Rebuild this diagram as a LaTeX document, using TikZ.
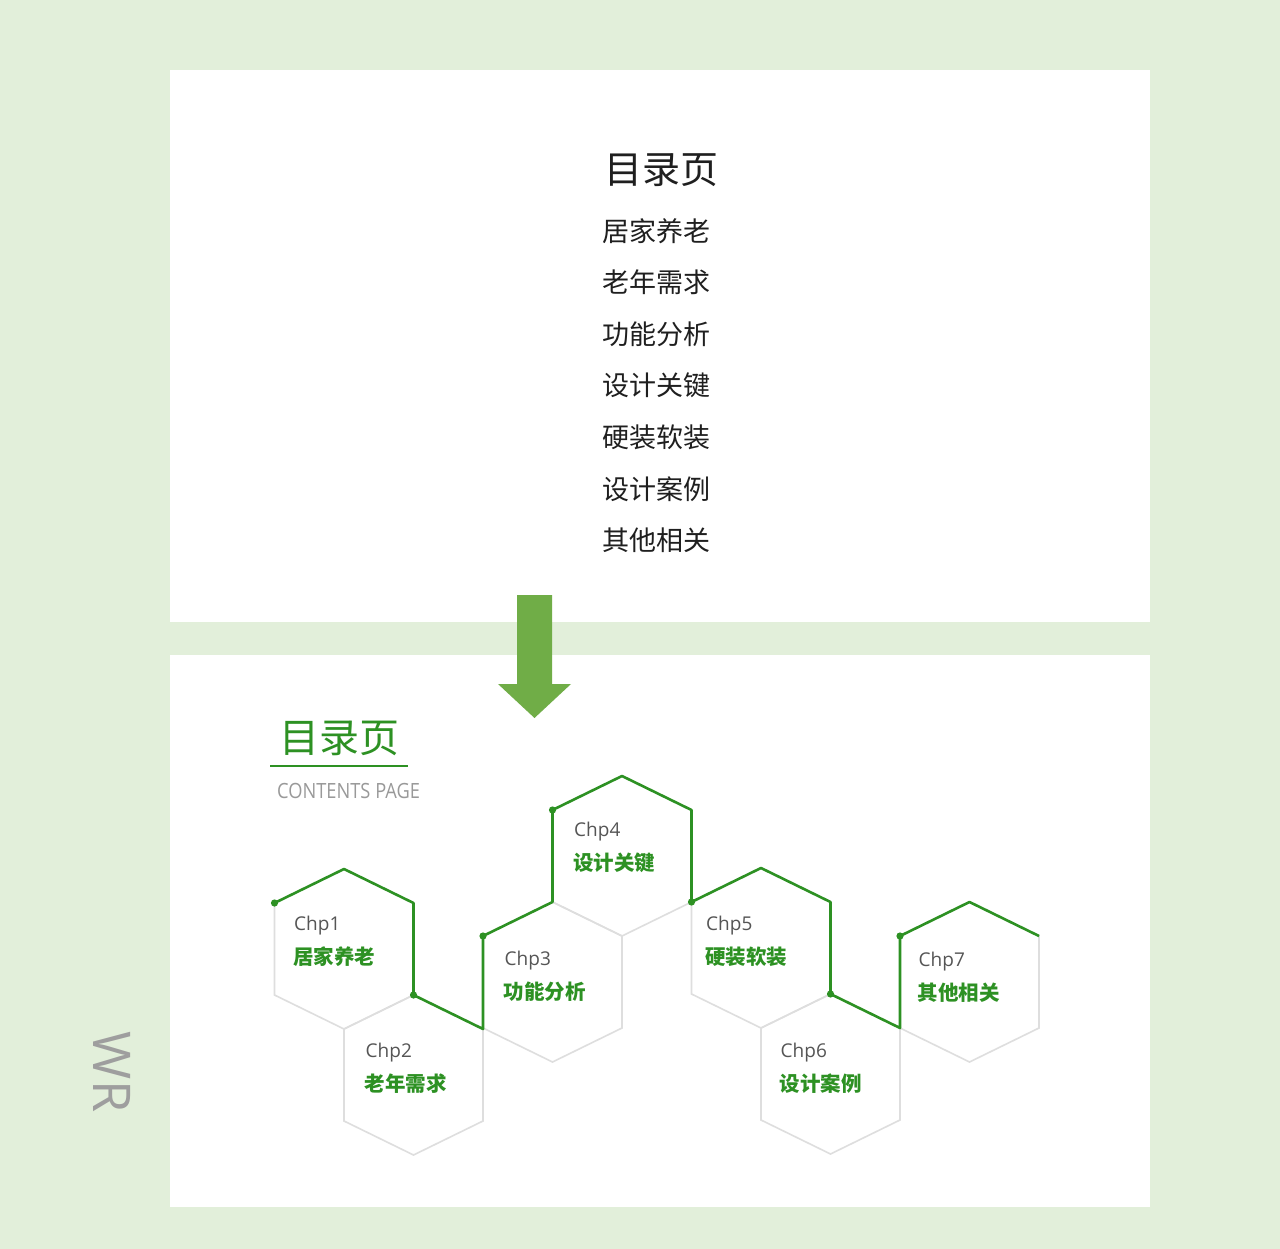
\documentclass[tikz,border=0pt]{standalone}
\usepackage{fontspec}
\setmainfont{Open Sans}
\newfontfamily\cjk{Noto Sans CJK SC}
\usetikzlibrary{calc}

\definecolor{bggreen}{HTML}{E2EFDA}
\definecolor{arrowgreen}{HTML}{70AD47}
\definecolor{linegreen}{RGB}{45,145,35}
\definecolor{hexgray}{RGB}{222,222,222}
\definecolor{chpgray}{RGB}{85,85,85}

% one cell of the comb: name, centre x, centre y
\newcommand\hexcell[3]{%
  \coordinate (#1) at (#2,#3);
  \coordinate (#1-t) at ($(#1)+(0,-80)$);
  \coordinate (#1-ur) at ($(#1)+(69.5,-46)$);
  \coordinate (#1-lr) at ($(#1)+(69.5,46)$);
  \coordinate (#1-b) at ($(#1)+(0,80)$);
  \coordinate (#1-ll) at ($(#1)+(-69.5,46)$);
  \coordinate (#1-ul) at ($(#1)+(-69.5,-46)$);
  \draw[hexline] (#1-t) -- (#1-ur) -- (#1-lr) -- (#1-b) -- (#1-ll) -- (#1-ul) -- cycle;
}

\begin{document}
\begin{tikzpicture}[x=1pt,y=-1pt,
    hexline/.style={draw=hexgray,line width=1.6pt},
    greenline/.style={draw=linegreen,line width=2.6pt,line join=round},
    knot/.style={fill=linegreen},
    item/.style={inner sep=0pt,font=\cjk\fontsize{27}{30}\selectfont,text=black!88},
    chp/.style={anchor=west,inner sep=0pt,font=\fontsize{19}{22}\selectfont,text=chpgray},
    chptext/.style={anchor=west,inner sep=0pt,font=\cjk\bfseries\fontsize{20.5}{24}\selectfont,text=linegreen}]

    \useasboundingbox (0,0) rectangle (1280,1249);
    \fill[bggreen] (0,0) rectangle (1280,1249);
    \fill[white] (170,70) rectangle (1150,622);
    \fill[white] (170,655) rectangle (1150,1207);

    % upper panel
    \node[inner sep=0pt,font=\cjk\fontsize{38}{42}\selectfont,text=black!88] (toptitle) at (661,170) {目录页};
    \node[item] (item1) at (656,231) {居家养老};
    \node[item] (item2) at (656,282) {老年需求};
    \node[item] (item3) at (656,334) {功能分析};
    \node[item] (item4) at (656,385) {设计关键};
    \node[item] (item5) at (656,437) {硬装软装};
    \node[item] (item6) at (656,489) {设计案例};
    \node[item] (item7) at (656,540) {其他相关};

    \fill[arrowgreen] (517,595) -- (552,595) -- (552,684) -- (571,684) -- (534.5,718) -- (498,684) -- (517,684) -- cycle;

    % lower panel
    \node[inner sep=0pt,font=\cjk\fontsize{40}{44}\selectfont,text=linegreen] (title) at (339,738) {目录页};
    \coordinate (rule-a) at (270,766);
    \coordinate (rule-b) at (408,766);
    \draw[linegreen,line width=2.4pt] (rule-a) -- (rule-b);
    \node[anchor=west,inner sep=0pt,font=\fontsize{21}{24}\selectfont,text=black!40,transform shape,xscale=0.87] (subtitle) at (277,791) {CONTENTS PAGE};

    \hexcell{h1}{344}{949}
    \hexcell{h2}{413.5}{1075}
    \hexcell{h3}{552.5}{982}
    \hexcell{h4}{622}{856}
    \hexcell{h5}{761}{948}
    \hexcell{h6}{830.5}{1074}
    \hexcell{h7}{969.5}{982}

    \draw[greenline] (h1-ul) -- (h1-t) -- (h1-ur) -- (h1-lr) -- (h2-ur) -- (h3-ul) -- (h3-t)
        -- (h4-ul) -- (h4-t) -- (h4-ur) -- (h4-lr) -- (h5-t) -- (h5-ur) -- (h5-lr)
        -- (h6-ur) -- (h7-ul) -- (h7-t) -- (h7-ur);
    \foreach \p in {h1-ul,h1-lr,h3-ul,h4-ul,h5-ul,h5-lr,h7-ul}
        \fill[knot] (\p) circle[radius=3.6pt];

    \node[chp] (chp1) at ($(h1)+(-50,-23)$) {Chp1};
    \node[chptext] (txt1) at ($(h1)+(-51,8)$) {居家养老};
    \node[chp] (chp2) at ($(h2)+(-48,-22)$) {Chp2};
    \node[chptext] (txt2) at ($(h2)+(-49,9)$) {老年需求};
    \node[chp] (chp3) at ($(h3)+(-48,-21)$) {Chp3};
    \node[chptext] (txt3) at ($(h3)+(-49,10)$) {功能分析};
    \node[chp] (chp4) at ($(h4)+(-48,-24)$) {Chp4};
    \node[chptext] (txt4) at ($(h4)+(-49,7)$) {设计关键};
    \node[chp] (chp5) at ($(h5)+(-55,-22)$) {Chp5};
    \node[chptext] (txt5) at ($(h5)+(-56,9)$) {硬装软装};
    \node[chp] (chp6) at ($(h6)+(-50,-21)$) {Chp6};
    \node[chptext] (txt6) at ($(h6)+(-51,10)$) {设计案例};
    \node[chp] (chp7) at ($(h7)+(-51,-20)$) {Chp7};
    \node[chptext] (txt7) at ($(h7)+(-52,11)$) {其他相关};

    \node[rotate=-90,inner sep=0pt,font=\fontsize{52}{56}\selectfont,text=black!38] (mark) at (112,1072) {WR};
\end{tikzpicture}
\end{document}
